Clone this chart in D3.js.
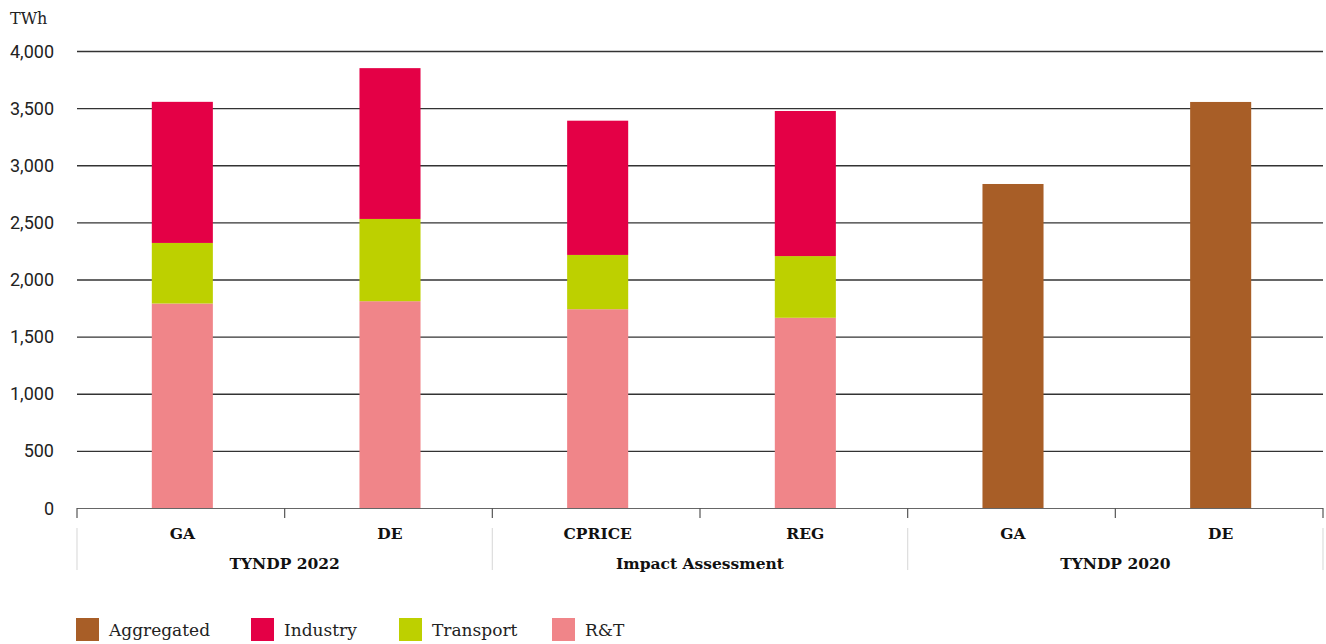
<!DOCTYPE html>
<html><head><meta charset="utf-8">
<script src="https://cdn.jsdelivr.net/npm/d3@7"></script>
<style>body{margin:0;background:#fff}svg{display:block}</style>
</head><body><svg id="c" width="1326" height="644"></svg>
<script>
const categories = ["GA","DE","CPRICE","REG","GA","DE"];
const groups = ["TYNDP 2022","TYNDP 2022","Impact Assessment","Impact Assessment","TYNDP 2020","TYNDP 2020"];
const groupNames = ["TYNDP 2022","Impact Assessment","TYNDP 2020"];
const seriesNames = ["R&T","Transport","Industry","Aggregated"];
const rt = [1790,1810,1740,1665,0,0];
const transport = [530,720,475,540,0,0];
const industry = [1235,1320,1175,1270,0,0];
const aggregated = [0,0,0,0,2836,3554];
const yTicks = [0,500,1000,1500,2000,2500,3000,3500,4000];
const legendNames = ["Aggregated","Industry","Transport","R&T"];
const colors = {"Aggregated":"#a85e27","Industry":"#e40046","Transport":"#bdd000","R&T":"#f08589"};

const serif = "'DejaVu Serif', serif";
const svg = d3.select("#c");
const L = 77, R = 1323, T = 51, B = 508;
const x = d3.scaleBand().domain(d3.range(categories.length)).range([L,R]).paddingInner(0.706).paddingOuter(0.353);
const y = d3.scaleLinear().domain([0,4000]).range([B,T]);
const shift = 1.5;

// gridlines
svg.append("g").selectAll("line").data(yTicks.filter(d=>d>0)).join("line")
  .attr("x1",L).attr("x2",R).attr("y1",d=>y(d)+0.5).attr("y2",d=>y(d)+0.5)
  .attr("stroke","#333").attr("stroke-width",1.3);
svg.append("g").selectAll("text").data(yTicks).join("text")
  .attr("x",54).attr("y",d=>y(d)+6.5).attr("text-anchor","end")
  .attr("font-family","Roboto, sans-serif").attr("font-size",18).attr("fill","#222")
  .text(d=>d3.format(",")(d));
svg.append("text").attr("x",10).attr("y",24).attr("font-family",serif).attr("font-size",16).attr("fill","#222").text("TWh");

// stacked bars
const rows = categories.map((c,i)=>({i, "R&T":rt[i], "Transport":transport[i], "Industry":industry[i], "Aggregated":aggregated[i]}));
const stack = d3.stack().keys(seriesNames)(rows);
svg.append("g").selectAll("g").data(stack).join("g").attr("fill",s=>colors[s.key])
  .selectAll("rect").data(s=>s.filter(d=>d[1]-d[0]>0)).join("rect")
  .attr("x",d=>x(d.data.i)+shift).attr("width",x.bandwidth())
  .attr("y",d=>y(d[1])).attr("height",d=>y(d[0])-y(d[1]));

// x axis
const step = x.step();
svg.append("line").attr("x1",L).attr("x2",R).attr("y1",B+0.5).attr("y2",B+0.5).attr("stroke","#666").attr("stroke-width",1.2);
const bounds = d3.range(categories.length+1).map(i=> i===0 ? L : x(i-1)+x.bandwidth()+(step-x.bandwidth())/2);
svg.append("g").selectAll("line").data(bounds).join("line")
  .attr("x1",d=>d).attr("x2",d=>d).attr("y1",B).attr("y2",B+10).attr("stroke","#555").attr("stroke-width",1.2);
svg.append("g").selectAll("text").data(categories).join("text")
  .attr("x",(d,i)=>x(i)+x.bandwidth()/2+shift).attr("y",539).attr("text-anchor","middle")
  .attr("font-family",serif).attr("font-weight","bold").attr("font-size",15.5).attr("fill","#111").text(d=>d);
// group separators & labels
const gb = [0,2,4,6].map(i=>bounds[i]);
svg.append("g").selectAll("line").data(gb).join("line")
  .attr("x1",d=>d).attr("x2",d=>d).attr("y1",528).attr("y2",570).attr("stroke","#ddd").attr("stroke-width",1.2);
svg.append("g").selectAll("text").data(groupNames).join("text")
  .attr("x",(d,i)=>(gb[i]+gb[i+1])/2).attr("y",569).attr("text-anchor","middle")
  .attr("font-family",serif).attr("font-weight","bold").attr("font-size",15.5).attr("fill","#111").text(d=>d);

// legend
const lx = [76,251,399,552];
const lg = svg.append("g").selectAll("g").data(legendNames).join("g").attr("transform",(d,i)=>`translate(${lx[i]},618)`);
lg.append("rect").attr("width",23).attr("height",23).attr("fill",d=>colors[d]);
lg.append("text").attr("x",33).attr("y",18).attr("font-family",serif).attr("font-size",17).attr("fill","#222").text(d=>d);
</script></body></html>
